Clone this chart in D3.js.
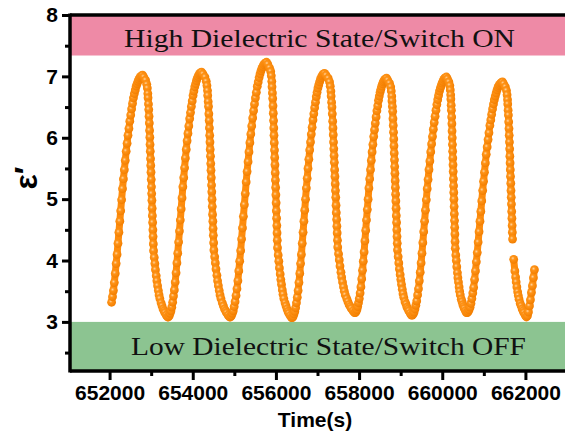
<!DOCTYPE html>
<html>
<head>
<meta charset="utf-8">
<script src="https://cdn.jsdelivr.net/npm/d3@7"></script>
<style>
  html, body { margin: 0; padding: 0; background: #ffffff; }
  svg { display: block; }
</style>
</head>
<body>
<svg id="chart" width="565" height="434"></svg>
<script>
// ε′ switching record: time (s) and permittivity, one pair of arrays per cycle
const timeCycle1 = [652048, 652070, 652092, 652114, 652136, 652158, 652180, 652202, 652224, 652246, 652267, 652289, 652311, 652333, 652355, 652377, 652399, 652421, 652443, 652465, 652486, 652508, 652530, 652552, 652574, 652596, 652618, 652640, 652662, 652684, 652705, 652727, 652749, 652771, 652793,
  652822, 652865, 652894, 652908, 652920, 652925, 652935, 652942, 652949, 652956, 652962, 652968, 652973, 652979, 652985, 652990, 652996, 653002, 653007, 653012, 653018, 653024, 653029, 653035, 653041, 653046, 653052, 653057, 653074, 653089, 653103, 653122, 653137, 653154, 653173, 653190, 653209, 653238, 653262, 653286, 653310, 653329, 653363, 653394];
const epsCycle1 = [3.32, 3.41, 3.51, 3.64, 3.79, 3.95, 4.10, 4.28, 4.46, 4.64, 4.81, 4.99, 5.17, 5.33, 5.48, 5.63, 5.78, 5.91, 6.04, 6.15, 6.27, 6.37, 6.47, 6.56, 6.65, 6.72, 6.78, 6.84, 6.88, 6.92, 6.95, 6.98, 7.00, 7.01, 7.02,
  6.99, 6.94, 6.87, 6.81, 6.72, 6.65, 6.55, 6.46, 6.35, 6.24, 6.12, 6.01, 5.89, 5.78, 5.66, 5.55, 5.44, 5.32, 5.20, 5.09, 4.98, 4.85, 4.73, 4.62, 4.50, 4.39, 4.27, 4.16, 4.05, 3.95, 3.85, 3.75, 3.67, 3.59, 3.51, 3.44, 3.38, 3.31, 3.26, 3.21, 3.18, 3.15, 3.11, 3.08];

const timeCycle2 = [653414, 653435, 653455, 653476, 653496, 653517, 653537, 653558, 653578, 653599, 653619, 653639, 653660, 653680, 653701, 653721, 653742, 653762, 653783, 653803, 653823, 653844, 653864, 653885, 653905, 653926, 653946, 653967, 653987, 654008, 654028, 654048, 654069, 654089, 654110, 654130, 654151, 654171, 654192, 654212,
  654244, 654293, 654325, 654341, 654355, 654360, 654371, 654379, 654387, 654395, 654401, 654408, 654414, 654420, 654427, 654433, 654439, 654446, 654452, 654458, 654464, 654470, 654476, 654483, 654489, 654495, 654502, 654508, 654527, 654543, 654559, 654581, 654597, 654616, 654637, 654656, 654678, 654710, 654737, 654764, 654791, 654812, 654850, 654885];
const epsCycle2 = [3.08, 3.10, 3.14, 3.18, 3.24, 3.32, 3.42, 3.52, 3.65, 3.80, 3.96, 4.12, 4.30, 4.48, 4.66, 4.84, 5.02, 5.20, 5.35, 5.51, 5.67, 5.81, 5.95, 6.07, 6.19, 6.31, 6.41, 6.51, 6.60, 6.69, 6.76, 6.83, 6.88, 6.93, 6.97, 7.00, 7.03, 7.05, 7.06, 7.07,
  7.04, 6.99, 6.92, 6.85, 6.77, 6.69, 6.59, 6.51, 6.39, 6.28, 6.16, 6.04, 5.93, 5.81, 5.70, 5.58, 5.47, 5.35, 5.23, 5.12, 5.00, 4.88, 4.75, 4.64, 4.52, 4.41, 4.29, 4.17, 4.06, 3.96, 3.86, 3.76, 3.67, 3.59, 3.51, 3.44, 3.38, 3.31, 3.26, 3.21, 3.18, 3.15, 3.11, 3.08];

const timeCycle3 = [654907, 654929, 654952, 654974, 654996, 655018, 655041, 655063, 655085, 655107, 655129, 655152, 655174, 655196, 655218, 655241, 655263, 655285, 655307, 655330, 655352, 655374, 655396, 655418, 655441, 655463, 655485, 655507, 655530, 655552, 655574, 655596, 655618, 655641, 655663, 655685, 655707, 655730, 655752, 655774,
  655803, 655846, 655875, 655889, 655901, 655906, 655916, 655923, 655930, 655937, 655943, 655949, 655954, 655960, 655966, 655971, 655977, 655983, 655988, 655993, 655999, 656005, 656010, 656016, 656022, 656027, 656033, 656038, 656055, 656070, 656084, 656103, 656118, 656135, 656154, 656171, 656190, 656219, 656243, 656267, 656291, 656310, 656344, 656375];
const epsCycle3 = [3.08, 3.10, 3.14, 3.18, 3.25, 3.33, 3.43, 3.54, 3.67, 3.83, 3.99, 4.16, 4.35, 4.53, 4.72, 4.91, 5.09, 5.28, 5.45, 5.61, 5.77, 5.92, 6.06, 6.19, 6.32, 6.44, 6.55, 6.65, 6.74, 6.84, 6.91, 6.98, 7.04, 7.09, 7.13, 7.16, 7.19, 7.21, 7.22, 7.23,
  7.20, 7.14, 7.08, 7.01, 6.92, 6.83, 6.73, 6.64, 6.52, 6.40, 6.28, 6.16, 6.04, 5.92, 5.80, 5.68, 5.56, 5.43, 5.31, 5.19, 5.07, 4.94, 4.81, 4.69, 4.57, 4.45, 4.33, 4.21, 4.09, 3.99, 3.88, 3.78, 3.69, 3.61, 3.52, 3.45, 3.38, 3.31, 3.26, 3.21, 3.17, 3.14, 3.10, 3.07];

const timeCycle4 = [656395, 656415, 656435, 656454, 656474, 656494, 656514, 656534, 656554, 656574, 656593, 656613, 656633, 656653, 656673, 656693, 656712, 656732, 656752, 656772, 656792, 656812, 656832, 656851, 656871, 656891, 656911, 656931, 656951, 656971, 656990, 657010, 657030, 657050, 657070, 657090, 657109, 657129, 657149, 657169,
  657204, 657256, 657290, 657307, 657322, 657328, 657339, 657348, 657356, 657365, 657372, 657379, 657385, 657392, 657399, 657405, 657412, 657419, 657426, 657432, 657439, 657446, 657452, 657460, 657466, 657473, 657480, 657486, 657506, 657524, 657541, 657564, 657581, 657602, 657625, 657645, 657668, 657703, 657731, 657760, 657789, 657812, 657853, 657890];
const epsCycle4 = [3.07, 3.09, 3.13, 3.17, 3.23, 3.31, 3.40, 3.51, 3.64, 3.79, 3.95, 4.10, 4.28, 4.46, 4.64, 4.82, 5.00, 5.18, 5.34, 5.50, 5.65, 5.80, 5.93, 6.06, 6.17, 6.29, 6.39, 6.49, 6.58, 6.67, 6.74, 6.81, 6.86, 6.91, 6.95, 6.98, 7.01, 7.03, 7.04, 7.05,
  7.02, 6.97, 6.91, 6.84, 6.76, 6.68, 6.58, 6.50, 6.39, 6.27, 6.16, 6.05, 5.93, 5.82, 5.71, 5.60, 5.48, 5.37, 5.25, 5.14, 5.03, 4.90, 4.78, 4.67, 4.56, 4.45, 4.33, 4.22, 4.11, 4.01, 3.91, 3.81, 3.73, 3.65, 3.57, 3.50, 3.44, 3.38, 3.33, 3.28, 3.25, 3.22, 3.18, 3.15];

const timeCycle5 = [657909, 657928, 657948, 657967, 657986, 658005, 658025, 658044, 658063, 658082, 658101, 658121, 658140, 658159, 658178, 658198, 658217, 658236, 658255, 658275, 658294, 658313, 658332, 658351, 658371, 658390, 658409, 658428, 658448, 658467, 658486, 658505, 658524, 658544, 658563, 658582, 658601, 658621, 658640, 658659,
  658688, 658731, 658760, 658774, 658786, 658791, 658801, 658808, 658815, 658822, 658828, 658834, 658839, 658845, 658851, 658856, 658862, 658868, 658873, 658878, 658884, 658890, 658895, 658901, 658907, 658912, 658918, 658923, 658940, 658955, 658969, 658988, 659003, 659020, 659039, 659056, 659075, 659104, 659128, 659152, 659176, 659195, 659229, 659260];
const epsCycle5 = [3.15, 3.17, 3.20, 3.25, 3.31, 3.38, 3.47, 3.57, 3.70, 3.84, 3.99, 4.14, 4.32, 4.49, 4.66, 4.83, 5.00, 5.18, 5.33, 5.48, 5.63, 5.77, 5.89, 6.02, 6.13, 6.24, 6.34, 6.44, 6.52, 6.61, 6.68, 6.74, 6.79, 6.84, 6.88, 6.91, 6.93, 6.95, 6.96, 6.97,
  6.94, 6.89, 6.83, 6.76, 6.68, 6.60, 6.51, 6.43, 6.31, 6.20, 6.09, 5.98, 5.87, 5.75, 5.64, 5.53, 5.42, 5.30, 5.19, 5.08, 4.97, 4.85, 4.73, 4.62, 4.50, 4.39, 4.28, 4.17, 4.06, 3.96, 3.86, 3.77, 3.69, 3.61, 3.53, 3.46, 3.40, 3.33, 3.29, 3.24, 3.21, 3.18, 3.14, 3.11];

const timeCycle6 = [659281, 659302, 659323, 659344, 659365, 659386, 659407, 659428, 659449, 659470, 659491, 659512, 659533, 659554, 659575, 659596, 659617, 659638, 659659, 659681, 659702, 659723, 659744, 659765, 659786, 659807, 659828, 659849, 659870, 659891, 659912, 659933, 659954, 659975, 659996, 660017, 660038, 660059, 660080, 660101,
  660124, 660159, 660182, 660193, 660203, 660207, 660215, 660220, 660226, 660232, 660236, 660241, 660245, 660250, 660254, 660259, 660263, 660268, 660272, 660277, 660281, 660286, 660290, 660295, 660299, 660304, 660308, 660313, 660326, 660338, 660349, 660365, 660376, 660390, 660405, 660418, 660434, 660457, 660476, 660495, 660515, 660530, 660557, 660582];
const epsCycle6 = [3.11, 3.13, 3.16, 3.21, 3.27, 3.34, 3.44, 3.54, 3.67, 3.81, 3.96, 4.12, 4.29, 4.47, 4.64, 4.82, 4.99, 5.17, 5.32, 5.48, 5.62, 5.77, 5.90, 6.02, 6.14, 6.25, 6.35, 6.45, 6.54, 6.62, 6.69, 6.76, 6.81, 6.85, 6.89, 6.92, 6.95, 6.97, 6.98, 6.99,
  6.96, 6.91, 6.85, 6.78, 6.70, 6.63, 6.53, 6.45, 6.34, 6.23, 6.11, 6.00, 5.89, 5.78, 5.67, 5.56, 5.45, 5.33, 5.22, 5.11, 5.00, 4.88, 4.76, 4.65, 4.54, 4.43, 4.31, 4.20, 4.09, 4.00, 3.90, 3.80, 3.72, 3.65, 3.57, 3.50, 3.44, 3.37, 3.33, 3.28, 3.25, 3.22, 3.18, 3.15];

const timeCycle7 = [660604, 660625, 660647, 660669, 660690, 660712, 660734, 660755, 660777, 660799, 660820, 660842, 660863, 660885, 660907, 660928, 660950, 660972, 660993, 661015, 661037, 661058, 661080, 661102, 661123, 661145, 661167, 661188, 661210, 661232, 661253, 661275, 661296, 661318, 661340, 661361, 661383, 661405, 661426, 661448,
  661476, 661517, 661545, 661559, 661570, 661575, 661584, 661591, 661598, 661605, 661610, 661616, 661621, 661626, 661632, 661637, 661642, 661648, 661653, 661659, 661664, 661670, 661675, 661681, 661686, 661691, 661718, 661746, 661764, 661778, 661794, 661813, 661829, 661847, 661875, 661898, 661921, 661944, 661963, 661995, 662025];
const epsCycle7 = [3.15, 3.17, 3.20, 3.24, 3.30, 3.38, 3.47, 3.56, 3.69, 3.83, 3.98, 4.13, 4.30, 4.47, 4.64, 4.80, 4.97, 5.14, 5.29, 5.44, 5.59, 5.73, 5.85, 5.97, 6.08, 6.20, 6.29, 6.38, 6.47, 6.55, 6.62, 6.68, 6.73, 6.78, 6.82, 6.85, 6.87, 6.89, 6.90, 6.91,
  6.88, 6.83, 6.77, 6.70, 6.62, 6.55, 6.45, 6.37, 6.26, 6.15, 6.04, 5.93, 5.82, 5.70, 5.59, 5.48, 5.37, 5.26, 5.14, 5.03, 4.92, 4.80, 4.69, 4.57, 4.46, 4.35, 4.02, 3.83, 3.73, 3.65, 3.57, 3.49, 3.43, 3.37, 3.30, 3.26, 3.21, 3.18, 3.15, 3.11, 3.08];

const timeTail = [662049, 662073, 662097, 662121, 662145, 662169, 662193, 662217];
const epsTail = [3.10, 3.16, 3.26, 3.36, 3.48, 3.59, 3.72, 3.85];

// Axis ticks and labels
const xMajorTicks = [652000, 654000, 656000, 658000, 660000, 662000];
const xMinorTicks = [653000, 655000, 657000, 659000, 661000];
const yMajorTicks = [3, 4, 5, 6, 7, 8];
const yMinorTicks = [2.5, 3.5, 4.5, 5.5, 6.5, 7.5];
const xTitle = "Time(s)";
const yTitle = "\u03B5\u2032";

// State bands: ε′ ranges for the ON and OFF states
const onBandRange = [7.34, 8];
const offBandRange = [2.2, 3];
const onBandLabel = "High Dielectric State/Switch ON";
const offBandLabel = "Low Dielectric State/Switch OFF";

const svg = d3.select("#chart");
const x = d3.scaleLinear().domain([651000, 663000]).range([68, 567]);
const y = d3.scaleLinear().domain([2.2, 8]).range([371, 15]);
const axisLeftX = 70, axisBottomY = y(2.2), axisTopY = y(8), plotRight = 567;

const segments = [
  [timeCycle1, epsCycle1], [timeCycle2, epsCycle2], [timeCycle3, epsCycle3],
  [timeCycle4, epsCycle4], [timeCycle5, epsCycle5], [timeCycle6, epsCycle6],
  [timeCycle7, epsCycle7], [timeTail, epsTail]
];
const points = segments.flatMap(([ts, es]) =>
  ts.slice(0, Math.min(ts.length, es.length)).map((t, i) => ({ t, e: es[i] })));

// Sphere shading for the markers
const defs = svg.append("defs");
const grad = defs.append("radialGradient").attr("id", "bead")
  .attr("cx", "0.4").attr("cy", "0.38").attr("r", "0.62");
grad.append("stop").attr("offset", "0").attr("stop-color", "#ffd3a0");
grad.append("stop").attr("offset", "0.32").attr("stop-color", "#ff9418");
grad.append("stop").attr("offset", "1").attr("stop-color", "#f27e00");

// Bands
svg.append("rect")
  .attr("x", axisLeftX).attr("y", y(onBandRange[1]))
  .attr("width", plotRight - axisLeftX).attr("height", y(onBandRange[0]) - y(onBandRange[1]))
  .attr("fill", "#ee8aa6");
svg.append("rect")
  .attr("x", axisLeftX).attr("y", y(offBandRange[1]))
  .attr("width", plotRight - axisLeftX).attr("height", y(offBandRange[0]) - y(offBandRange[1]))
  .attr("fill", "#8cc491");

const serif = "'Liberation Serif', 'Times New Roman', serif";
svg.append("text").attr("x", 124).attr("y", 47)
  .attr("font-family", serif).attr("font-size", 25)
  .attr("textLength", 391).attr("lengthAdjust", "spacingAndGlyphs")
  .attr("fill", "#111").text(onBandLabel);
svg.append("text").attr("x", 131).attr("y", 355)
  .attr("font-family", serif).attr("font-size", 25)
  .attr("textLength", 395).attr("lengthAdjust", "spacingAndGlyphs")
  .attr("fill", "#111").text(offBandLabel);

// Trace: a connecting line under the markers, broken where readings jump
const trace = [];
points.forEach((p, i) => {
  if (i > 0 && Math.abs(p.e - points[i - 1].e) > 0.25) trace.push(null);
  trace.push(p);
});
svg.append("path")
  .datum(trace)
  .attr("fill", "none").attr("stroke", "#ff8c0c").attr("stroke-width", 7)
  .attr("stroke-linejoin", "round").attr("stroke-linecap", "round")
  .attr("d", d3.line().defined(d => d !== null).x(d => x(d.t)).y(d => y(d.e)));

// Markers
svg.append("g").selectAll("circle").data(points).join("circle")
  .attr("cx", d => x(d.t)).attr("cy", d => y(d.e)).attr("r", 4.4)
  .attr("fill", "url(#bead)");

// Axes
const sans = "'Liberation Sans', Arial, sans-serif";
function styleAxis(g) {
  g.select(".domain").remove();
  g.selectAll(".tick line").attr("stroke", "#000").attr("stroke-width", 3);
  g.selectAll(".tick text").attr("font-family", sans).attr("font-weight", "bold")
    .attr("font-size", 21).attr("fill", "#000");
}

svg.append("g").attr("transform", `translate(${axisLeftX},0)`)
  .call(d3.axisLeft(y).tickValues(yMinorTicks).tickSize(5).tickFormat(""))
  .call(styleAxis);
svg.append("g").attr("transform", `translate(${axisLeftX},0)`)
  .call(d3.axisLeft(y).tickValues(yMajorTicks).tickSize(8).tickPadding(4).tickFormat(d3.format("d")))
  .call(styleAxis);

svg.append("g").attr("transform", `translate(0,${axisBottomY})`)
  .call(d3.axisBottom(x).tickValues(xMinorTicks).tickSize(5).tickFormat(""))
  .call(styleAxis);
svg.append("g").attr("transform", `translate(0,${axisBottomY})`)
  .call(d3.axisBottom(x).tickValues(xMajorTicks).tickSize(9).tickPadding(5).tickFormat(d3.format("d")))
  .call(styleAxis);

// Frame lines
svg.append("line").attr("x1", axisLeftX).attr("x2", axisLeftX)
  .attr("y1", axisTopY - 1.5).attr("y2", axisBottomY + 1.5)
  .attr("stroke", "#000").attr("stroke-width", 3.5);
svg.append("line").attr("x1", axisLeftX).attr("x2", plotRight)
  .attr("y1", axisBottomY).attr("y2", axisBottomY)
  .attr("stroke", "#000").attr("stroke-width", 3.5);
svg.append("line").attr("x1", axisLeftX).attr("x2", plotRight)
  .attr("y1", axisTopY).attr("y2", axisTopY)
  .attr("stroke", "#000").attr("stroke-width", 3.5);

// Axis titles
svg.append("text").attr("x", 315).attr("y", 427)
  .attr("text-anchor", "middle").attr("font-family", sans).attr("font-weight", "bold")
  .attr("font-size", 21).attr("fill", "#000").text(xTitle);
svg.append("text").attr("transform", "translate(37,178) rotate(-90)")
  .attr("text-anchor", "middle").attr("font-family", sans).attr("font-weight", "bold")
  .attr("font-size", 32).attr("fill", "#000").text(yTitle);
</script>
</body>
</html>
